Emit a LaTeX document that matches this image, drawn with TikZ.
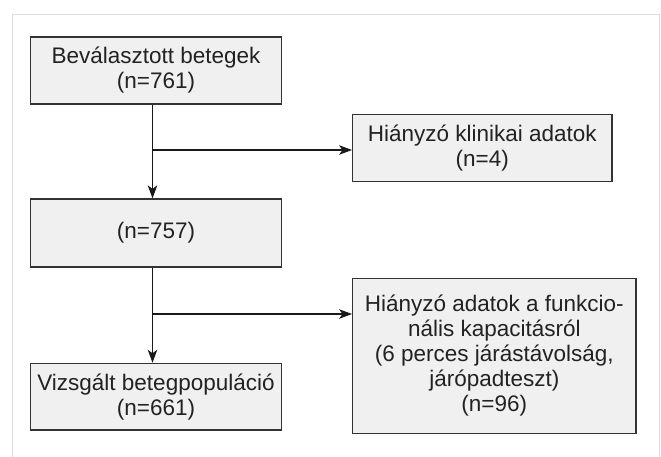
\documentclass[tikz,border=0pt]{standalone}
\usepackage{fontspec}
\setmainfont{Liberation Sans}
\usetikzlibrary{arrows.meta}
\definecolor{boxfill}{HTML}{F0F0F0}
\definecolor{boxline}{HTML}{333333}
\definecolor{framecol}{HTML}{DCDCDC}
\definecolor{txt}{HTML}{222222}
\begin{document}
\begin{tikzpicture}[x=1pt,y=1pt,
  flowbox/.style={draw=boxline,fill=boxfill,line width=1.2pt,rectangle,inner sep=0pt,
    align=center,text=txt,font=\fontsize{22.5}{25}\selectfont},
  conn/.style={draw=black!90,line width=1.2pt},
  arr/.style={conn,-{Stealth[length=13pt,width=9.5pt,inset=3.5pt]}}]
\useasboundingbox (0,0) rectangle (661,-456);
\fill[white] (0,0) rectangle (661,-456);
\draw[framecol,line width=1pt] (12.7,-14) rectangle (659.5,-470);
\node[flowbox,minimum width=251.5pt,minimum height=67pt] (b1) at (156,-70.5) {Beválasztott betegek\\(n=761)};
\node[flowbox,minimum width=251.5pt,minimum height=68pt] (b2) at (156,-233) {(n=757)};
\node[flowbox,minimum width=259.3pt,minimum height=67.7pt] (b3) at (482.3,-148) {Hiányzó klinikai adatok\\(n=4)};
\node[flowbox,minimum width=251.5pt,minimum height=66.7pt] (b4) at (156,-396.7) {Vizsgált betegpopuláció\\(n=661)};
\node[flowbox,minimum width=283.3pt,minimum height=154.3pt] (b5) at (494.3,-356) {Hiányzó adatok a funkcio-\\nális kapacitásról\\(6 perces járástávolság,\\járópadteszt)\\(n=96)};
\coordinate (j1) at ([xshift=-3.5pt]b1.south |- 0,-150);
\coordinate (j2) at ([xshift=-3.5pt]b2.south |- 0,-314);
\draw[arr] ([xshift=-3.5pt]b1.south) -- ([xshift=-3.5pt]b2.north);
\draw[arr] (j1) -- (j1 -| b3.west);
\draw[arr] ([xshift=-3.5pt]b2.south) -- ([xshift=-3.5pt]b4.north);
\draw[arr] (j2) -- (j2 -| b5.west);
\end{tikzpicture}
\end{document}
